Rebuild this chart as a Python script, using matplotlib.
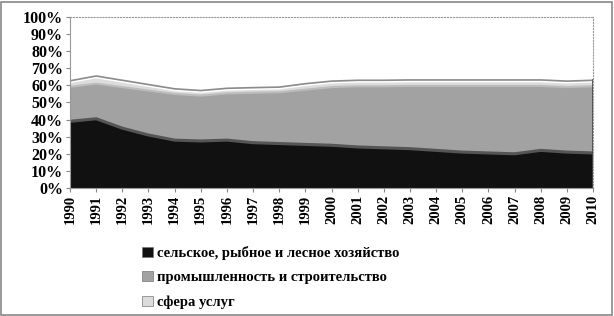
import numpy as np
from matplotlib import pyplot as plt
from matplotlib.patches import Patch, Rectangle

# годы и доли занятых по секторам, %
years = list(range(1990, 2011))
agri = [39, 40.5, 35, 31, 28, 27.5, 28, 26.5, 26, 25.5, 25, 24, 23.5, 23, 22, 21, 20.5, 20, 22, 21, 20.5]
industry = [20.2, 20.5, 24, 26, 27, 26.5, 27.3, 29.2, 30, 32, 34, 35.5, 36, 36.7, 37.7, 38.7, 39.2, 39.7, 37.7, 38, 39]
services = [3.5, 4.5, 4, 3.5, 3, 3, 3, 3, 3, 3.5, 3.5, 3.5, 3.5, 3.5, 3.5, 3.5, 3.5, 3.5, 3.5, 3.5, 3.5]
labels = ['сельское, рыбное и лесное хозяйство',
          'промышленность и строительство',
          'сфера услуг']
y_ticks = np.arange(0, 101, 10)

plt.rcParams['font.family'] = 'Liberation Serif'
plt.rcParams['font.weight'] = 'bold'

fig = plt.figure(figsize=(6.14, 3.16), dpi=100)
ax = fig.add_axes([70 / 614, 1 - 188 / 316, 523 / 614, 171 / 316])

fills = ['#111111', '#a2a2a2', '#dcdcdc']
ax.stackplot(years, agri, industry, services, colors=fills,
             edgecolor='none', baseline='zero')
# контурные линии слоёв
top1 = np.array(agri)
top2 = top1 + np.array(industry)
top3 = top2 + np.array(services)
ax.plot(years, top1, color='#555555', lw=2.2)
ax.plot(years, top2, color='#bcbcbc', lw=1.5)
ax.plot(years, top3 - 0.9, color='white', lw=1.2)
ax.plot(years, top3, color='#8c8c8c', lw=1.2)
ax.plot([2010, 2010], [0, top3[-1]], color='#444444', lw=1.2)

ax.set_xlim(1990, 2010)
ax.set_ylim(0, 100)
ax.set_yticks(y_ticks)
ax.set_yticklabels([f'{t}%' for t in y_ticks], fontsize=11.5, fontweight='bold')
ax.set_xticks(years)
ax.set_xticklabels([str(y) for y in years], rotation=90, fontsize=10.5, fontweight='bold')
ax.tick_params(axis='both', length=3, width=0.8, color='#888888', pad=2)
for name, spine in ax.spines.items():
    spine.set_color('#999999')
    spine.set_linewidth(0.8)
ax.spines['top'].set_linestyle(':')
ax.spines['right'].set_linestyle(':')

handles = [Patch(facecolor=fills[i], edgecolor='#777777', lw=0.5) for i in range(3)]
fig.legend(handles, labels, loc='upper left', bbox_to_anchor=(135 / 614, 1 - 239 / 316),
           frameon=False, handlelength=0.7, handleheight=0.7,
           handletextpad=0.3, labelspacing=0.75, borderpad=0,
           prop={'family': 'Liberation Serif', 'weight': 'bold', 'size': 10.5})

fig.patches.append(Rectangle((0.002, 0.004), 0.995, 0.99, transform=fig.transFigure,
                             fill=False, edgecolor='#888888', lw=1.2))

plt.savefig('out.png', dpi=100)
